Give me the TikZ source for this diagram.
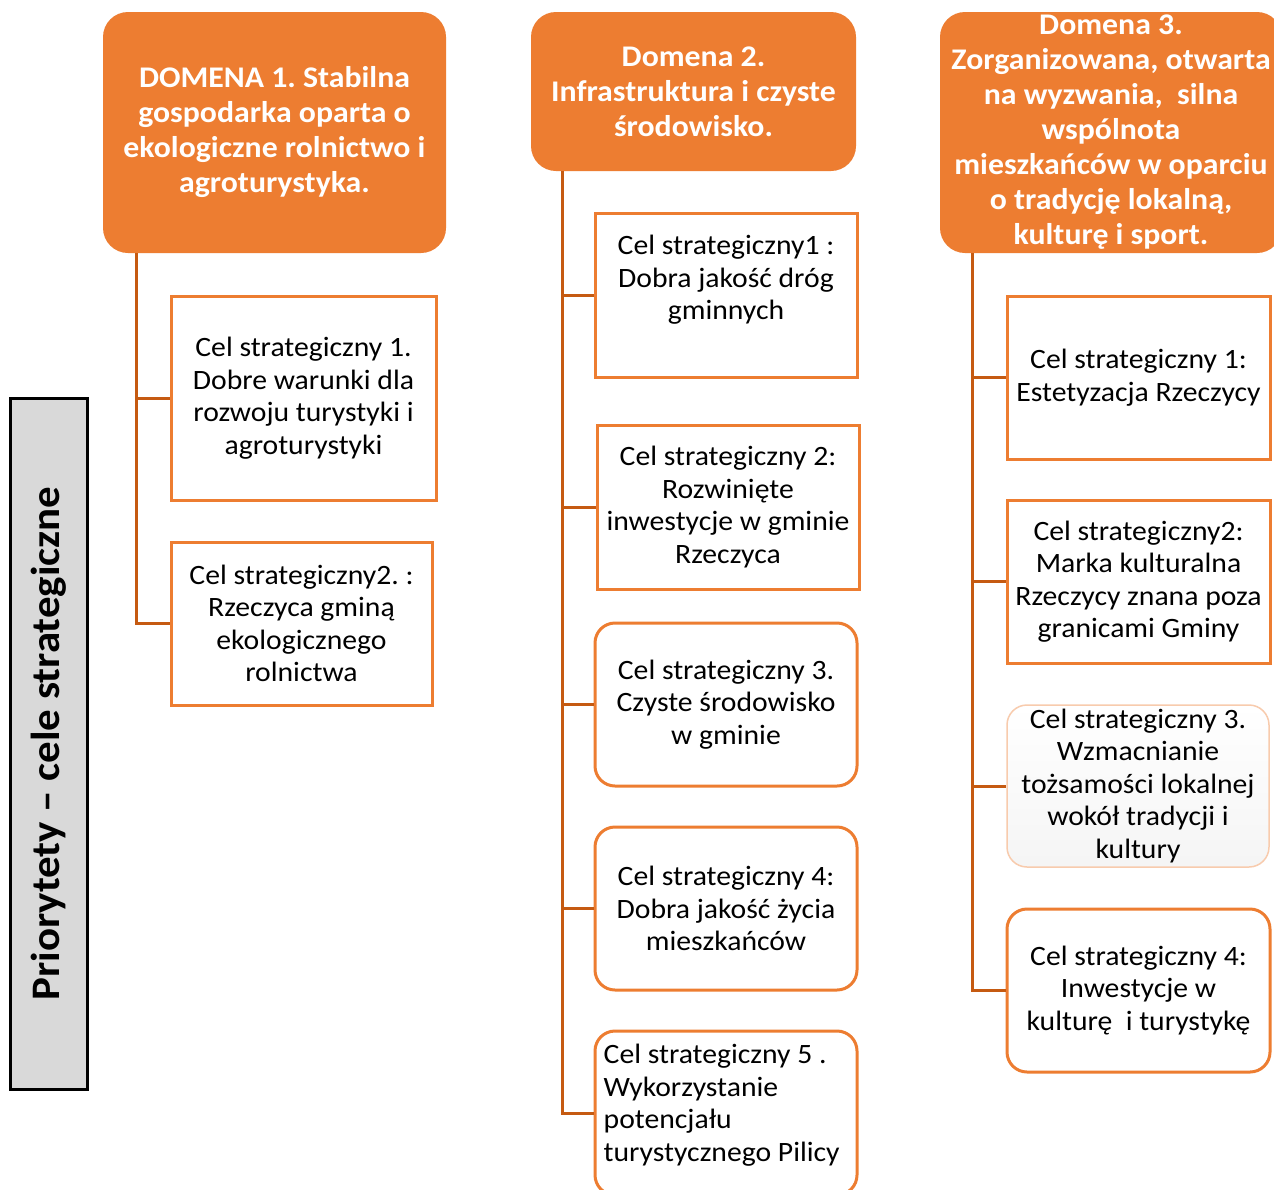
\documentclass[tikz,border=0pt]{standalone}
\usepackage{fontspec}
\setmainfont{Carlito}[FakeStretch=1.06]
\usetikzlibrary{calc}
\definecolor{domfill}{HTML}{ED7D31}
\definecolor{goalline}{HTML}{ED7D31}
\definecolor{connline}{HTML}{C55A11}
\definecolor{paleline}{HTML}{F8CBAD}
\definecolor{labelgray}{HTML}{D9D9D9}
\frenchspacing
\tikzset{
  dom/.style={fill=domfill, draw=none, rounded corners=25pt, text=white,
    font=\bfseries\fontsize{30}{35}\selectfont, align=center, inner sep=0pt},
  goal/.style={draw=goalline, line width=3pt, fill=white,
    font=\fontsize{28}{32.5}\selectfont, align=center, inner sep=0pt},
  goaltext/.style={font=\fontsize{28}{32.5}\selectfont, align=center, inner sep=0pt},
  goalround/.style={goal, rounded corners=20pt},
  conn/.style={draw=connline, line width=3pt}
}
\begin{document}
\begin{tikzpicture}[x=1pt,y=-1pt]
\useasboundingbox (0,0) rectangle (1274,1189);
\clip (0,0) rectangle (1274,1189);
\fill[white] (0,0) rectangle (1274,1189);

% side label
\node[draw=black, line width=3pt, fill=labelgray, rotate=90,
      minimum width=691pt, minimum height=77pt, inner sep=0pt,
      font=\bfseries\fontsize{40.5}{44}\selectfont] (lab) at (48.5,743.5) {Priorytety – cele strategiczne};

% domains
\node[dom, minimum width=343pt, minimum height=241pt] (d1) at (274.5,132.5)
  {DOMENA 1. Stabilna\\gospodarka oparta o\\ekologiczne rolnictwo i\\agroturystyka.};
\node[dom, minimum width=325pt, minimum height=159pt] (d2) at (693.5,91.5)
  {Domena 2.\\Infrastruktura i czyste\\środowisko.};
\node[dom, minimum width=342pt, minimum height=241pt] (d3) at (1111,132.5)
  {Domena 3.\\Zorganizowana, otwarta\\na wyzwania,~ silna\\wspólnota\\mieszkańców w oparciu\\o tradycję lokalną,\\kulturę i sport.};

% column 1
\node[goal, minimum width=265pt, minimum height=204pt] (g11) at (303.5,398)
  {Cel strategiczny 1.\\Dobre warunki dla\\rozwoju turystyki i\\agroturystyki};
\node[goal, minimum width=261pt, minimum height=163pt] (g12) at (301.5,623.5)
  {Cel strategiczny2. :\\Rzeczyca gminą\\ekologicznego\\rolnictwa};

% column 2
\node[goal, minimum width=262pt, minimum height=164pt] (g21) at (726,295) {};
\node[goaltext] (t21) at ([yshift=15pt]g21.center) {Cel strategiczny1 :\\Dobra jakość dróg\\gminnych};
\node[goal, minimum width=262pt, minimum height=164pt] (g22) at (728,507)
  {Cel strategiczny 2:\\Rozwinięte\\inwestycje w gminie\\Rzeczyca};
\node[goalround, minimum width=262pt, minimum height=163pt] (g23) at (726,704.5)
  {Cel strategiczny 3.\\Czyste środowisko\\w gminie};
\node[goalround, minimum width=262pt, minimum height=163pt] (g24) at (726,908.5)
  {Cel strategiczny 4:\\Dobra jakość życia\\mieszkańców};
\node[goalround, minimum width=262pt, minimum height=164pt] (g25) at (726,1113) {};
\node[goaltext, align=left, anchor=west] (t25) at ([xshift=10pt,yshift=8pt]g25.west)
  {Cel strategiczny 5 .\\Wykorzystanie\\potencjału\\turystycznego Pilicy};

% column 3
\node[goal, minimum width=263pt, minimum height=163pt] (g31) at (1138.5,377.5)
  {Cel strategiczny 1:\\Estetyzacja Rzeczycy};
\node[goal, minimum width=263pt, minimum height=163pt] (g32) at (1138.5,581.5)
  {Cel strategiczny2:\\Marka kulturalna\\Rzeczycy znana poza\\granicami Gminy};
\node[goalround, draw=paleline, line width=1.5pt, top color=white, bottom color=black!4,
      minimum width=262pt, minimum height=162pt] (g33) at (1138,786)
  {Cel strategiczny 3.\\Wzmacnianie\\tożsamości lokalnej\\wokół tradycji i\\kultury};
\node[goalround, minimum width=263pt, minimum height=163pt] (g34) at (1138.5,990.5)
  {Cel strategiczny 4:\\Inwestycje w\\kulturę~ i turystykę};

% connectors
\coordinate (s1) at ([xshift=34pt]d1.south west);
\coordinate (s2) at ([xshift=32pt]d2.south west);
\coordinate (s3) at ([xshift=33pt]d3.south west);
\draw[conn] (s1) |- (g11.west);
\draw[conn] (s1) |- (g12.west);
\draw[conn] (s2) |- (g21.west);
\draw[conn] (s2) |- (g22.west);
\draw[conn] (s2) |- (g23.west);
\draw[conn] (s2) |- (g24.west);
\draw[conn] (s2) |- (g25.west);
\draw[conn] (s3) |- (g31.west);
\draw[conn] (s3) |- (g32.west);
\draw[conn] (s3) |- (g33.west);
\draw[conn] (s3) |- (g34.west);
\end{tikzpicture}
\end{document}
